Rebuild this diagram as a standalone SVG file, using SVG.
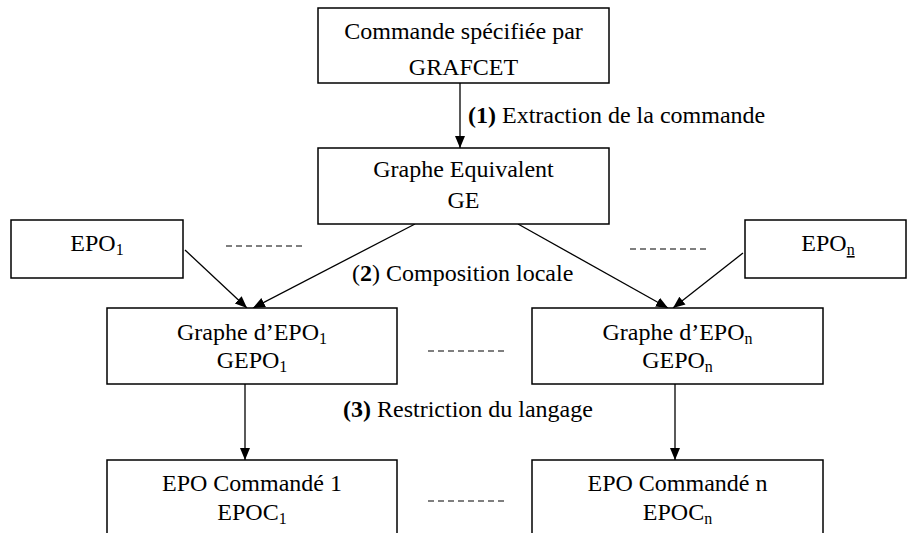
<svg xmlns="http://www.w3.org/2000/svg" width="907" height="533" viewBox="0 0 907 533">
<style>
  rect.box { fill: #fff; stroke: #000; stroke-width: 1.5; }
  text { font-family: "Liberation Serif", "Times New Roman", serif; font-size: 24px; fill: #000; }
  text.c { text-anchor: middle; }
  .sub { font-size: 16px; }
  .conn line { stroke: #000; stroke-width: 1.3; }
  .dash { stroke: #000; stroke-width: 1.2; stroke-dasharray: 6 4; }
  .b { font-weight: bold; }
</style>
<defs>
  <marker id="arr" markerUnits="userSpaceOnUse" markerWidth="14" markerHeight="12" refX="12" refY="5" orient="auto">
    <path d="M0,0 L12,5 L0,10 Z" fill="#000"/>
  </marker>
</defs>
<rect width="907" height="533" fill="#fff"/>

<g id="connectors" class="conn">
  <line x1="460" y1="83" x2="460" y2="148" marker-end="url(#arr)"/>
  <line x1="185" y1="250" x2="247" y2="308" marker-end="url(#arr)"/>
  <line x1="415" y1="224" x2="253" y2="308" marker-end="url(#arr)"/>
  <line x1="518" y1="224" x2="668" y2="308" marker-end="url(#arr)"/>
  <line x1="743" y1="253" x2="673" y2="308" marker-end="url(#arr)"/>
  <line x1="245" y1="384" x2="245" y2="460" marker-end="url(#arr)"/>
  <line x1="675" y1="384" x2="675" y2="460" marker-end="url(#arr)"/>
</g>

<g id="dashes">
  <line class="dash" x1="226" y1="246" x2="304" y2="246"/>
  <line class="dash" x1="630" y1="249" x2="708" y2="249"/>
  <line class="dash" x1="428" y1="351" x2="507" y2="351"/>
  <line class="dash" x1="428" y1="501" x2="506" y2="501"/>
</g>

<g id="labels">
  <text x="468" y="123"><tspan class="b">(1)</tspan> Extraction de la commande</text>
  <text x="352" y="281">(<tspan class="b">2</tspan>) Composition locale</text>
  <text x="343" y="417"><tspan class="b">(3)</tspan> Restriction du langage</text>
</g>

<g id="n-grafcet">
  <rect class="box" x="318" y="8" width="291" height="75"/>
  <text class="c" x="463.5" y="39">Commande spécifiée par</text>
  <text class="c" x="463.5" y="75">GRAFCET</text>
</g>

<g id="n-ge">
  <rect class="box" x="318" y="148" width="291" height="76"/>
  <text class="c" x="463.5" y="177">Graphe Equivalent</text>
  <text class="c" x="463.5" y="208">GE</text>
</g>

<g id="n-epo1">
  <rect class="box" x="11" y="220" width="172" height="58"/>
  <text class="c" x="97" y="251">EPO<tspan class="sub" dy="4">1</tspan></text>
</g>

<g id="n-epon">
  <rect class="box" x="745" y="220" width="161" height="58"/>
  <text class="c" x="828" y="251">EPO<tspan class="sub" dy="4" text-decoration="underline">n</tspan></text>
</g>

<g id="n-gepo1">
  <rect class="box" x="107" y="308" width="290" height="76"/>
  <text class="c" x="252" y="340">Graphe d’EPO<tspan class="sub" dy="4">1</tspan></text>
  <text class="c" x="252" y="368">GEPO<tspan class="sub" dy="4">1</tspan></text>
</g>

<g id="n-gepon">
  <rect class="box" x="532" y="308" width="291" height="76"/>
  <text class="c" x="677.5" y="340">Graphe d’EPO<tspan class="sub" dy="4">n</tspan></text>
  <text class="c" x="677.5" y="368">GEPO<tspan class="sub" dy="4">n</tspan></text>
</g>

<g id="n-epoc1">
  <rect class="box" x="107" y="460" width="290" height="85"/>
  <text class="c" x="252" y="491">EPO Commandé 1</text>
  <text class="c" x="252" y="520">EPOC<tspan class="sub" dy="4">1</tspan></text>
</g>

<g id="n-epocn">
  <rect class="box" x="532" y="460" width="291" height="85"/>
  <text class="c" x="677.5" y="491">EPO Commandé n</text>
  <text class="c" x="677.5" y="520">EPOC<tspan class="sub" dy="4">n</tspan></text>
</g>
</svg>
